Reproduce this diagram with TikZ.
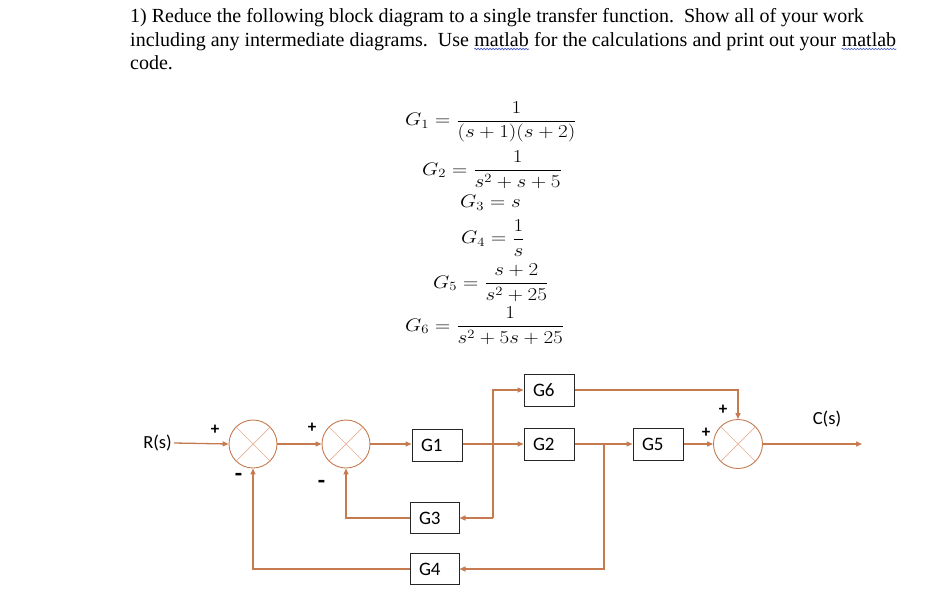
\documentclass[tikz,border=0pt]{standalone}
\usepackage{amsmath}
\usepackage{graphicx}
\usepackage{fontspec}
\setmainfont{Liberation Serif}
\newfontfamily\cali{Carlito}
\usetikzlibrary{arrows.meta,decorations.pathmorphing}
\definecolor{lc}{RGB}{197,122,80}
\definecolor{lcl}{RGB}{228,175,148}
\definecolor{wavy}{RGB}{70,90,200}
\newcommand{\eqs}[1]{\scalebox{1.22}[1.05]{$#1$}}
\begin{document}
\begin{tikzpicture}[x=1pt,y=-1pt,
  sig/.style={draw=lc,line width=1.3pt},
  arr/.style={sig,-{Triangle[length=6pt,width=5pt]}},
  blk/.style={draw=black!85,line width=1pt,text width=32pt,inner xsep=9pt,inner ysep=0pt,align=left,minimum height=32pt,font=\cali\fontsize{19}{20}\selectfont},
  sumj/.style={circle,draw=lc,line width=0.9pt,minimum size=48pt,inner sep=0pt},
  lab/.style={font=\cali\fontsize{18.5}{20}\selectfont,inner sep=0pt},
  sgn/.style={font=\cali\bfseries\fontsize{17}{18}\selectfont,inner sep=0pt},
  msgn/.style={font=\cali\bfseries\fontsize{24}{24}\selectfont,inner sep=0pt},
  txt/.style={font=\fontsize{20}{23}\selectfont,inner sep=0pt,anchor=base west},
  eq/.style={font=\fontsize{18}{22}\selectfont,inner sep=0pt,anchor=west},
  squig/.style={draw=wavy,line width=0.6pt,decorate,decoration={snake,amplitude=0.8pt,segment length=3pt}}]
\useasboundingbox (0,0) rectangle (937,613);
% heading text
\node[txt] (t1) at (130,23) {1) Reduce the following block diagram to a single transfer function.\ \ Show all of your work};
\node[txt] (t2a) at (130,46) {including any intermediate diagrams.\ \ Use\ \mbox{}};
\node[txt] (m1) at (t2a.base east) {matlab};
\node[txt] (t2b) at (m1.base east) {\mbox{}\ for the calculations and print out your\ \mbox{}};
\node[txt] (m2) at (t2b.base east) {matlab};
\node[txt] (t3) at (130,69) {code.};
\draw[squig] ([yshift=-3pt]m1.base west) -- ([yshift=-3pt]m1.base east);
\draw[squig] ([yshift=-3pt]m2.base west) -- ([yshift=-3pt]m2.base east);
% equations
\node[eq] (e1) at (405,122) {\eqs{G_1 = \dfrac{1}{(s+1)(s+2)}}};
\node[eq] (e2) at (422,170) {\eqs{G_2 = \dfrac{1}{s^2+s+5}}};
\node[eq] (e3) at (460,203) {\eqs{G_3 = s}};
\node[eq] (e4) at (461,238) {\eqs{G_4 = \dfrac{1}{s}}};
\node[eq] (e5) at (433,283) {\eqs{G_5 = \dfrac{s+2}{s^2+25}}};
\node[eq] (e6) at (405,326) {\eqs{G_6 = \dfrac{1}{s^2+5s+25}}};
% blocks
\node[sumj] (s1) at (253,444) {};
\node[sumj] (s2) at (346,444) {};
\node[sumj,minimum size=49pt] (s3) at (738,444) {};
\foreach \s in {s1,s2,s3}{
  \draw[lcl,line width=0.7pt] (\s.north west) -- (\s.south east);
  \draw[lcl,line width=0.7pt] (\s.north east) -- (\s.south west);
}
\node[blk] (G1) at (437,445) {G1};
\node[blk] (G2) at (549,444.5) {G2};
\node[blk] (G5) at (658,444.5) {G5};
\node[blk] (G6) at (549,390) {G6};
\node[blk,text width=31pt,minimum height=31pt] (G3) at (434.5,518) {G3};
\node[blk,text width=31pt,minimum height=31pt] (G4) at (434.5,569) {G4};
\node[lab,anchor=east] (R) at (172,443) {R(s)};
\node[lab] (C) at (827,419) {C(s)};
\coordinate (out) at (862,444);
\coordinate (p1) at (493,518);
\coordinate (p2) at (604,444);
% connectors
\draw[arr] ([xshift=2pt]R.east) -- (s1.west);
\draw[arr] (s1.east) -- (s2.west);
\draw[arr] (s2.east) -- (G1.west |- s2.east);
\draw[arr] (G1.east |- s2.east) -- (G2.west |- s2.east);
\draw[arr] (G2.east |- s2.east) -- (G5.west |- s2.east);
\draw[arr] (G5.east |- s2.east) -- (s3.west);
\draw[arr] (s3.east) -- (out);
\draw[arr] (p1) |- (G6.west);
\draw[arr] (p1) -- (G3.east |- p1);
\draw[arr] (p2) |- (G4.east);
\draw[arr] (G3.west) -| (s2.south);
\draw[arr] (G4.west) -| (s1.south);
\draw[arr] (G6.east) -| (s3.north);
% signs
\node[sgn] (a1) at (215,430) {+};
\node[msgn] (a2) at (238.5,477) {-};
\node[sgn] (a3) at (312,428) {+};
\node[msgn] (a4) at (321.5,484) {-};
\node[sgn] (a5) at (723,410) {+};
\node[sgn] (a6) at (706,433) {+};
\end{tikzpicture}
\end{document}
